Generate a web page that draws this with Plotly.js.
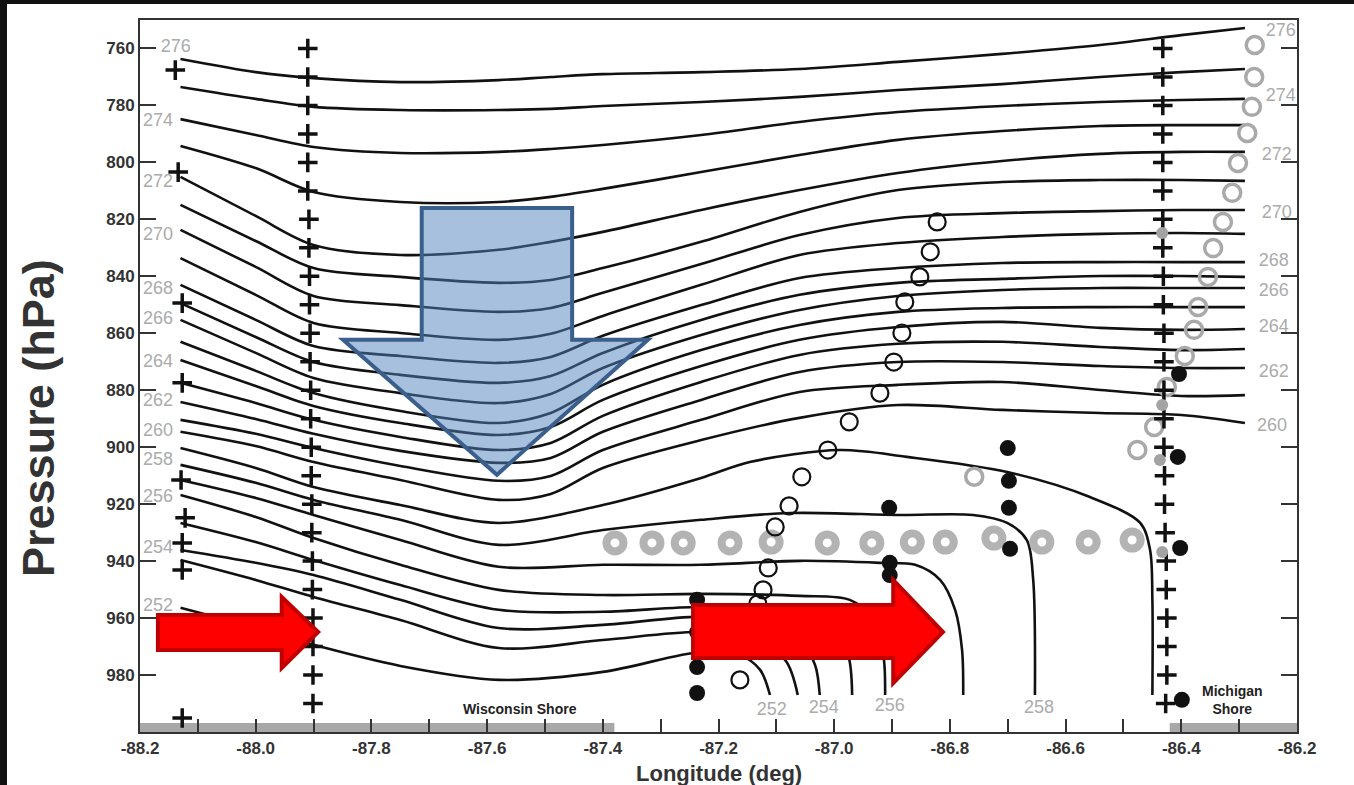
<!DOCTYPE html>
<html><head><meta charset="utf-8">
<script src="https://cdn.plot.ly/plotly-3.0.1.min.js"></script>
<style>
html,body{margin:0;padding:0;background:#fff;width:1354px;height:785px;overflow:hidden}
#chart{position:absolute;left:0;top:0;width:1354px;height:785px}
.bar-top{position:absolute;left:0;top:0;width:1354px;height:4px;background:#111;z-index:5}
.bar-left{position:absolute;left:0;top:0;width:7px;height:785px;background:#111;z-index:5}
</style></head>
<body>
<div id="chart"></div>
<div class="bar-top"></div><div class="bar-left"></div>
<script>
// ---------- isentropes (theta, K) : longitude (deg) / pressure (hPa) ----------
const LON_COLS = [-88.13, -88.0, -87.9, -87.75, -87.58, -87.49, -87.4, -87.23, -87.06, -86.89, -86.71, -86.54, -86.4, -86.29];
const P276 = [763.7, 768.3, 770.4, 771.8, 771.1, 770.0, 769.0, 768.3, 767.2, 764.7, 761.9, 758.8, 755.3, 752.8];
const P275 = [773.5, 777.7, 780.5, 781.6, 781.6, 781.2, 780.2, 778.8, 777.0, 774.6, 772.5, 770.0, 768.3, 767.2];
const P274 = [784.8, 790.4, 794.6, 796.7, 796.3, 795.3, 793.9, 790.4, 785.8, 782.3, 780.2, 778.8, 778.1, 777.7];
const P273 = [794.2, 802.0, 810.4, 813.9, 813.9, 812.1, 809.3, 803.4, 797.4, 792.1, 789.0, 787.2, 786.9, 786.9];
const P272 = [805.1, 818.8, 829.0, 832.5, 830.7, 827.9, 824.4, 816.7, 809.7, 803.7, 799.5, 797.0, 796.3, 796.3];
const P271 = [814.9, 827.6, 837.1, 840.2, 842.3, 841.3, 837.1, 827.9, 817.4, 809.7, 806.9, 806.2, 806.2, 806.5];
const P270 = [823.7, 836.7, 846.9, 850.1, 852.5, 851.1, 845.8, 835.7, 825.5, 819.5, 817.8, 817.1, 816.7, 816.7];
const P269 = [833.6, 846.5, 856.4, 859.9, 862.3, 860.2, 853.9, 843.0, 832.5, 828.3, 826.2, 825.1, 824.8, 825.1];
const P268 = [843.0, 855.3, 864.5, 868.0, 870.4, 868.3, 860.9, 850.1, 840.6, 837.1, 835.3, 835.0, 835.0, 835.0];
const P267 = [849.4, 861.3, 870.1, 874.6, 877.4, 875.0, 866.9, 855.3, 846.5, 842.3, 840.9, 839.9, 839.9, 840.2];
const P266 = [855.3, 866.9, 875.7, 881.0, 884.5, 881.3, 872.2, 860.6, 851.8, 846.9, 844.8, 844.1, 844.1, 844.1];
const P265 = [863.0, 873.2, 881.0, 887.3, 891.5, 888.0, 878.1, 865.9, 857.1, 852.5, 851.1, 850.8, 850.8, 850.8];
const P264 = [869.4, 878.5, 885.5, 891.5, 895.7, 892.9, 883.4, 871.5, 862.3, 857.8, 856.0, 858.1, 858.8, 858.5];
const P263 = [877.4, 884.5, 890.4, 896.4, 901.0, 898.5, 889.0, 877.1, 867.6, 863.7, 863.0, 864.8, 865.9, 865.5];
const P262 = [884.1, 890.1, 895.3, 901.3, 905.5, 903.8, 894.6, 883.4, 873.6, 870.1, 870.1, 871.5, 872.2, 872.2];
const P261 = [890.4, 895.3, 900.3, 906.6, 911.8, 910.1, 901.0, 890.4, 880.6, 878.1, 877.1, 879.9, 882.0, 881.7];
const P260 = [894.6, 899.6, 905.2, 911.5, 918.5, 916.4, 907.3, 897.5, 889.7, 885.2, 886.9, 888.0, 888.7, 891.5];

const LON259 = [-88.13, -88.0, -87.9, -87.75, -87.58, -87.4, -87.23, -87.146, -86.99, -86.874, -86.701, -86.558, -86.471, -86.454, -86.45, -86.45];
const P259   = [900.3, 907.3, 914.0, 920.3, 926.6, 920.3, 910.8, 905.2, 901.0, 903.4, 908.7, 917.5, 926.6, 936.1, 953.6, 987.0];
const LON258 = [-88.13, -88.0, -87.9, -87.75, -87.58, -87.4, -87.23, -87.076, -86.886, -86.76, -86.701, -86.667, -86.656, -86.653];
const P258   = [906.2, 912.5, 918.5, 925.5, 934.3, 929.1, 925.5, 923.1, 923.8, 923.8, 926.6, 932.6, 946.6, 987.0];
const LON257 = [-88.13, -88.0, -87.9, -87.75, -87.58, -87.4, -87.23, -87.059, -86.921, -86.86, -86.817, -86.791, -86.779, -86.777];
const P257   = [911.5, 917.8, 923.8, 932.6, 942.0, 941.3, 941.3, 939.9, 940.6, 941.3, 946.6, 957.1, 971.2, 987.0];
const LON256 = [-88.13, -88.0, -87.9, -87.75, -87.58, -87.4, -87.23, -87.059, -86.973, -86.929, -86.914, -86.912];
const P256   = [916.8, 924.5, 931.9, 941.3, 950.1, 951.9, 951.5, 952.2, 953.6, 960.7, 974.7, 987.0];
const LON255 = [-88.13, -88.0, -87.9, -87.75, -87.58, -87.4, -87.23, -87.094, -87.007, -86.976, -86.969];
const P255   = [926.6, 933.3, 939.6, 948.4, 957.1, 957.8, 956.1, 957.8, 962.4, 972.9, 987.0];
const LON254 = [-88.13, -88.0, -87.9, -87.75, -87.58, -87.4, -87.23, -87.128, -87.059, -87.033, -87.025];
const P254   = [936.1, 940.6, 944.9, 953.6, 963.5, 962.4, 959.6, 962.4, 967.7, 976.5, 987.0];
const LON253 = [-88.13, -88.0, -87.9, -87.75, -87.58, -87.4, -87.23, -87.146, -87.085, -87.063];
const P253   = [939.6, 946.6, 952.6, 960.7, 970.5, 967.7, 964.9, 967.7, 974.7, 987.0];
const LON252 = [-88.13, -88.0, -87.9, -87.75, -87.58, -87.4, -87.23, -87.163, -87.128, -87.111];
const P252   = [956.4, 963.5, 969.4, 976.8, 981.7, 978.9, 971.9, 973.0, 978.2, 987.0];

// ---------- contour labels ----------
const LBL_LEFT_TEXT = ['276','274','272','270','268','266','264','262','260','258','256','254','252'];
const LBL_LEFT_LON  = [-88.138, -88.169, -88.169, -88.169, -88.169, -88.169, -88.169, -88.169, -88.169, -88.169, -88.169, -88.169, -88.169];
const LBL_LEFT_P    = [759.8, 785.8, 807.2, 825.5, 844.8, 855.3, 870.1, 884.1, 894.6, 904.5, 917.5, 935.7, 956.1];
const LBL_RIGHT_TEXT = ['276','274','272','270','268','266','264','262','260'];
const LBL_RIGHT_LON  = [-86.228, -86.228, -86.235, -86.235, -86.240, -86.240, -86.240, -86.240, -86.243];
const LBL_RIGHT_P    = [754.2, 777.0, 797.4, 817.8, 834.9, 845.5, 858.1, 873.6, 892.9];
const LBL_BOT_TEXT = ['252','254','256','258'];
const LBL_BOT_LON  = [-87.108, -87.018, -86.904, -86.646];
const LBL_BOT_P    = [992.3, 991.6, 990.9, 991.6];

// ---------- soundings (+) ----------
const SND_LEVELS = [760,770,780,790,800,810,820,830,840,850,860,870,880,890,900,910,920,930,940,950,960,970,980,990];
const SND_W_LON = [-87.91,-87.91,-87.91,-87.91,-87.91,-87.91,-87.908,-87.908,-87.907,-87.907,-87.906,-87.906,-87.905,-87.905,-87.904,-87.904,-87.903,-87.903,-87.902,-87.902,-87.901,-87.901,-87.901,-87.901];
const SND_E_LON = [-86.432,-86.432,-86.432,-86.432,-86.432,-86.432,-86.432,-86.432,-86.431,-86.431,-86.43,-86.43,-86.43,-86.43,-86.43,-86.429,-86.429,-86.428,-86.426,-86.426,-86.425,-86.425,-86.425,-86.427];
const SND_EDGE_LON = [-88.139, -88.134, -88.127, -88.127, -88.129, -88.122, -88.127, -88.127, -88.127];
const SND_EDGE_P   = [767.6, 803.4, 849.4, 877.4, 911.5, 924.8, 933.6, 943.1, 995.1];

// ---------- trajectories / observations ----------
const TRAJ_LON = [-86.822,-86.834,-86.852,-86.878,-86.883,-86.897,-86.921,-86.974,-87.011,-87.056,-87.078,-87.102,-87.114,-87.123,-87.132,-87.163];
const TRAJ_P   = [820.9, 831.4, 840.2, 849.0, 859.9, 870.1, 881.0, 891.1, 901.0, 910.4, 920.6, 928.0, 942.4, 950.1, 955.0, 981.7];
const GTRAJ_LON = [-86.273,-86.274,-86.278,-86.286,-86.302,-86.312,-86.328,-86.345,-86.354,-86.371,-86.378,-86.394,-86.425,-86.447,-86.476,-86.758];
const GTRAJ_P   = [758.8, 770.0, 780.5, 789.7, 800.2, 810.7, 820.9, 830.1, 840.2, 850.8, 858.8, 868.0, 878.9, 892.9, 901.0, 910.4];
const RING_LON = [-87.379,-87.315,-87.261,-87.180,-87.109,-87.012,-86.935,-86.865,-86.808,-86.724,-86.641,-86.561,-86.485];
const RING_P   = [933.6, 933.6, 933.6, 933.6, 933.3, 933.6, 933.6, 933.3, 933.3, 931.9, 933.3, 933.3, 932.6];
const DOT_LON = [-86.700,-86.698,-86.698,-86.696,-86.905,-86.904,-86.904,-87.237,-87.237,-87.237,-87.237,-86.404,-86.406,-86.402,-86.399];
const DOT_P   = [900.3, 911.8, 921.3, 935.7, 921.3, 940.6, 944.9, 953.6, 964.9, 977.2, 986.3, 874.3, 903.4, 935.4, 988.7];
const GDOT_LON = [-86.433, -86.433, -86.437, -86.433];
const GDOT_P   = [824.8, 885.2, 904.5, 936.8];

// ---------- shorelines ----------
const SHORE_W = [-88.2, -87.38];
const SHORE_M = [-86.42, -86.2];

const LINE_STYLE = {color:'#111', width:2.6, shape:'spline', smoothing:0.9};
const traces = [];
const FULL = [[276,P276],[275,P275],[274,P274],[273,P273],[272,P272],[271,P271],[270,P270],[269,P269],[268,P268],[267,P267],[266,P266],[265,P265],[264,P264],[263,P263],[262,P262],[261,P261],[260,P260]];
FULL.forEach(([th, p]) => traces.push({type:'scatter', mode:'lines', x:LON_COLS, y:p, name:th+' K', line:LINE_STYLE}));
const LOWER = [[259,LON259,P259],[258,LON258,P258],[257,LON257,P257],[256,LON256,P256],[255,LON255,P255],[254,LON254,P254],[253,LON253,P253],[252,LON252,P252]];
LOWER.forEach(([th, x, p]) => traces.push({type:'scatter', mode:'lines', x:x, y:p, name:th+' K', line:LINE_STYLE}));

const lblFont = {family:'Liberation Sans, Arial, sans-serif', size:18, color:'#ababab'};
traces.push({type:'scatter', mode:'text', x:LBL_LEFT_LON, y:LBL_LEFT_P, text:LBL_LEFT_TEXT, textfont:lblFont, cliponaxis:false});
traces.push({type:'scatter', mode:'text', x:LBL_RIGHT_LON, y:LBL_RIGHT_P, text:LBL_RIGHT_TEXT, textfont:lblFont, cliponaxis:false});
traces.push({type:'scatter', mode:'text', x:LBL_BOT_LON, y:LBL_BOT_P, text:LBL_BOT_TEXT, textfont:lblFont, cliponaxis:false});

traces.push({type:'scatter', mode:'markers', x:RING_LON, y:RING_P, marker:{symbol:'circle-open', size:17, color:'#b3b3b3', line:{width:8}}});
traces.push({type:'scatter', mode:'markers', x:GTRAJ_LON, y:GTRAJ_P, marker:{symbol:'circle-open', size:17, color:'#a9a9a9', line:{width:3.5}}});
traces.push({type:'scatter', mode:'markers', x:TRAJ_LON, y:TRAJ_P, marker:{symbol:'circle-open', size:17, color:'#111', line:{width:2.2}}});
const plusM = {symbol:'cross-thin', size:14, color:'#111', line:{width:3.5, color:'#111'}};
traces.push({type:'scatter', mode:'markers', x:SND_W_LON, y:SND_LEVELS, marker:plusM, cliponaxis:false});
traces.push({type:'scatter', mode:'markers', x:SND_E_LON, y:SND_LEVELS, marker:plusM, cliponaxis:false});
traces.push({type:'scatter', mode:'markers', x:SND_EDGE_LON, y:SND_EDGE_P, marker:plusM, cliponaxis:false});
traces.push({type:'scatter', mode:'markers', x:GDOT_LON, y:GDOT_P, marker:{symbol:'circle', size:12, color:'#a3a3a3'}});
traces.push({type:'scatter', mode:'markers', x:DOT_LON, y:DOT_P, marker:{symbol:'circle', size:16, color:'#111'}});

const XT = []; for (let i = 0; i <= 10; i++) XT.push(-88.2 + i * 0.2);
const YT = []; for (let v = 760; v <= 980; v += 20) YT.push(v);
const tickFont = {family:'Liberation Sans, Arial, sans-serif', size:17, color:'#333'};
const bold = s => '<b>' + s + '</b>';

const layout = {
  width:1354, height:785,
  margin:{l:140, r:57, t:20, b:53, pad:0},
  paper_bgcolor:'#fff', plot_bgcolor:'#fff',
  showlegend:false, hovermode:false,
  xaxis:{range:[-88.2,-86.2], tickvals:XT, ticktext:XT.map(v => bold(v.toFixed(1))),
    ticks:'inside', ticklen:13, tickwidth:2, tickcolor:'#333',
    minor:{dtick:0.1, tick0:-88.2, ticks:'inside', ticklen:13, tickwidth:2, tickcolor:'#333', showgrid:false},
    showline:true, linecolor:'#333', linewidth:2, mirror:true, showgrid:false, zeroline:false,
    tickfont:tickFont, automargin:false},
  yaxis:{range:[1000,750], tickvals:YT, ticktext:YT.map(v => bold(String(v))),
    ticks:'inside', ticklen:16, tickwidth:2, tickcolor:'#333',
    showline:true, linecolor:'#333', linewidth:2, mirror:'ticks', showgrid:false, zeroline:false,
    tickfont:tickFont, automargin:false},
  shapes:[
    {type:'rect', xref:'x', yref:'y', x0:SHORE_W[0], x1:SHORE_W[1], y0:996.8, y1:1000, fillcolor:'#a8a8a8', line:{width:0}, layer:'below'},
    {type:'rect', xref:'x', yref:'y', x0:SHORE_M[0], x1:SHORE_M[1], y0:996.8, y1:1000, fillcolor:'#a8a8a8', line:{width:0}, layer:'below'},
    {type:'path', xref:'x', yref:'y', layer:'above',
     path:'M -87.713,816.0 L -87.453,816.0 L -87.453,862.3 L -87.322,862.3 L -87.583,909.7 L -87.849,862.3 L -87.713,862.3 Z',
     fillcolor:'rgba(79,129,189,0.5)', line:{color:'#3a5f8c', width:4}},
    {type:'path', xref:'x', yref:'y', layer:'above',
     path:'M -88.169,958.9 L -87.955,958.9 L -87.955,952.6 L -87.892,964.9 L -87.955,977.5 L -87.955,971.2 L -88.169,971.2 Z',
     fillcolor:'#ff0000', line:{color:'#c00000', width:4}},
    {type:'path', xref:'x', yref:'y', layer:'above',
     path:'M -87.244,955.4 L -86.898,955.4 L -86.898,946.6 L -86.812,964.9 L -86.898,982.8 L -86.898,974.0 L -87.244,974.0 Z',
     fillcolor:'#ff0000', line:{color:'#c00000', width:4}}
  ],
  annotations:[
    {text:'<b>Longitude (deg)</b>', xref:'paper', yref:'paper', x:0.5, y:-0.0576, xanchor:'center', yanchor:'middle', showarrow:false,
     font:{family:'Liberation Sans, Arial, sans-serif', size:22, color:'#333'}},
    {text:'<b>Pressure (hPa)</b>', xref:'paper', yref:'paper', x:-0.0882, y:0.441, xanchor:'center', yanchor:'middle', textangle:-90, showarrow:false,
     font:{family:'Liberation Sans, Arial, sans-serif', size:45, color:'#333'}},
    {text:'<b>Wisconsin Shore</b>', xref:'x', yref:'y', x:-87.544, y:991.9, xanchor:'center', yanchor:'middle', showarrow:false,
     font:{family:'Liberation Sans, Arial, sans-serif', size:14, color:'#222'}},
    {text:'<b>Michigan<br>Shore</b>', xref:'x', yref:'y', x:-86.312, y:988.7, xanchor:'center', yanchor:'middle', showarrow:false,
     font:{family:'Liberation Sans, Arial, sans-serif', size:14, color:'#222'}}
  ]
};
Plotly.newPlot('chart', traces, layout, {staticPlot:true, displayModeBar:false});
</script>
</body></html>
